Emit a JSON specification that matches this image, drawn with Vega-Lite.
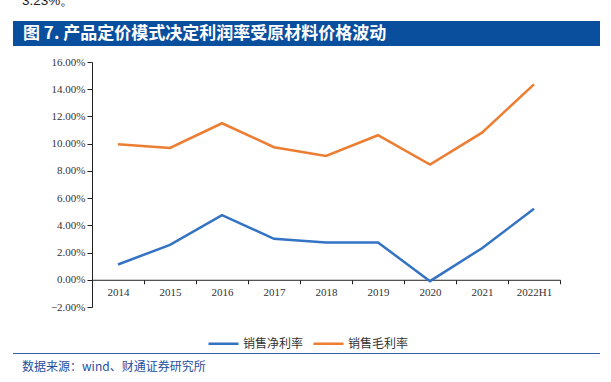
{
  "$schema": "https://vega.github.io/schema/vega-lite/v6.json",
  "background": "white",
  "padding": {"left": 13, "top": 0, "right": 11, "bottom": 0},
  "config": {"view": {"stroke": null}},
  "bounds": "flush",
  "spacing": 0,
  "resolve": {"scale": {"color": "independent"}, "legend": {"color": "independent"}},
  "vconcat": [
    {
      "width": 587, "height": 21,
      "data": {"values": [{"t": "3.23%。"}]},
      "mark": {"type": "text", "clip": true, "align": "left", "baseline": "alphabetic", "font": "Liberation Sans", "fontSize": 13.5, "color": "#222"},
      "encoding": {"text": {"field": "t"}, "x": {"value": 9}, "y": {"value": 5}}
    },
    {
      "width": 587, "height": 25,
      "view": {"fill": "#0A4F9E", "stroke": null},
      "data": {"values": [{"t": "图 7. 产品定价模式决定利润率受原材料价格波动"}]},
      "mark": {"type": "text", "align": "left", "baseline": "middle", "font": "Noto Sans CJK SC", "fontSize": 17, "fontWeight": "bold", "color": "white"},
      "encoding": {"text": {"field": "t"}, "x": {"value": 10}, "y": {"value": 13}}
    },
    {
      "width": 587, "height": 16,
      "data": {"values": [{}]},
      "mark": "text"
    },
    {
      "width": 547, "height": 245,
      "data": {"values": [
        {"year": "2014", "series": "销售净利率", "value": 0.0112},
        {"year": "2015", "series": "销售净利率", "value": 0.0257},
        {"year": "2016", "series": "销售净利率", "value": 0.0475},
        {"year": "2017", "series": "销售净利率", "value": 0.0301},
        {"year": "2018", "series": "销售净利率", "value": 0.0274},
        {"year": "2019", "series": "销售净利率", "value": 0.0274},
        {"year": "2020", "series": "销售净利率", "value": -0.0010},
        {"year": "2021", "series": "销售净利率", "value": 0.0232},
        {"year": "2022H1", "series": "销售净利率", "value": 0.0521},
        {"year": "2014", "series": "销售毛利率", "value": 0.0996},
        {"year": "2015", "series": "销售毛利率", "value": 0.0969},
        {"year": "2016", "series": "销售毛利率", "value": 0.1150},
        {"year": "2017", "series": "销售毛利率", "value": 0.0974},
        {"year": "2018", "series": "销售毛利率", "value": 0.0910},
        {"year": "2019", "series": "销售毛利率", "value": 0.1062},
        {"year": "2020", "series": "销售毛利率", "value": 0.0846},
        {"year": "2021", "series": "销售毛利率", "value": 0.1081},
        {"year": "2022H1", "series": "销售毛利率", "value": 0.1436}
      ]},
      "mark": {"type": "line", "strokeWidth": 2.5, "clip": false},
      "encoding": {
        "x": {
          "field": "year", "type": "ordinal", "sort": null,
          "scale": {"type": "band", "paddingInner": 0, "paddingOuter": 0, "range": [79, 547]},
          "axis": {
            "title": null, "labelAngle": 0, "offset": -27.22, "tickBand": "extent",
            "labelFont": "Liberation Serif", "labelFontSize": 11, "labelColor": "#333",
            "domainColor": "#222", "tickColor": "#222", "tickSize": 4, "labelPadding": 3
          }
        },
        "y": {
          "field": "value", "type": "quantitative",
          "scale": {"domain": [-0.02, 0.16], "nice": false, "zero": false},
          "axis": {
            "title": null, "grid": false, "format": ".2%", "offset": -79,
            "values": [-0.02, 0, 0.02, 0.04, 0.06, 0.08, 0.1, 0.12, 0.14, 0.16],
            "labelFont": "Liberation Serif", "labelFontSize": 11, "labelColor": "#333",
            "domainColor": "#222", "tickColor": "#222", "tickSize": 5, "labelPadding": 2
          }
        },
        "color": {
          "field": "series", "type": "nominal",
          "scale": {"domain": ["销售净利率", "销售毛利率"], "range": ["#3473C4", "#ED7D31"]},
          "legend": {
            "title": null, "orient": "none", "direction": "horizontal",
            "legendX": 194, "legendY": 265,
            "symbolType": "stroke", "symbolSize": 900, "symbolStrokeWidth": 2.5,
            "labelFont": "Noto Sans CJK SC", "labelFontSize": 12, "labelColor": "#333",
            "labelOffset": 3, "columnPadding": 4
          }
        }
      }
    },
    {
      "width": 587, "height": 46,
      "data": {"values": [{}]},
      "mark": "text"
    },
    {
      "width": 587, "height": 1,
      "view": {"fill": "#3A66A6", "stroke": null},
      "data": {"values": [{}]},
      "mark": "text"
    },
    {
      "width": 587, "height": 28,
      "data": {"values": [{"t": "数据来源：wind、财通证券研究所"}]},
      "mark": {"type": "text", "align": "left", "baseline": "middle", "font": "Noto Sans CJK SC", "fontSize": 12, "color": "#1F4E9E"},
      "encoding": {"text": {"field": "t"}, "x": {"value": 9}, "y": {"value": 13}}
    }
  ]
}
